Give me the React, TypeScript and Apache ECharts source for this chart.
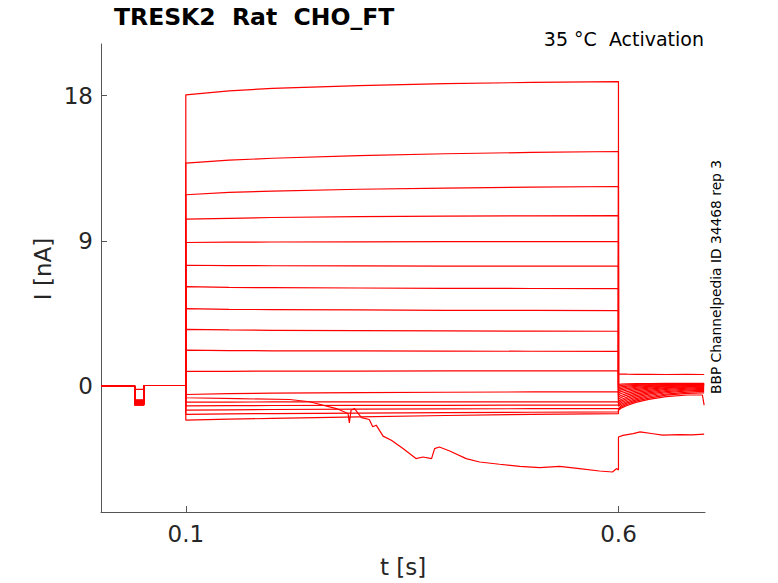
import { useEffect, useRef } from 'react'
import * as echarts from 'echarts'

// time points (s) shared by the regular sweeps
const PRE_T = [0.002, 0.041, 0.041, 0.0515, 0.0515, 0.1]
const STEP_T = [0.1, 0.15, 0.2, 0.3, 0.4, 0.5, 0.6]
const TAIL_T = [0.6, 0.603, 0.61, 0.62, 0.635, 0.655, 0.68, 0.697, 0.699]

// small prepulse dip before the step (nA)
const DIP = [-0.2, -0.85, -0.88, -0.9, -0.93, -0.95, -0.98, -1.0, -1.02, -1.05, -1.07, -1.1, -1.12, -1.14, -1.16, -1.17, -1.18]

// current during the voltage step (nA)
const STEP_I = [
  [18.05, 18.3, 18.45, 18.62, 18.74, 18.82, 18.87],
  [13.82, 14.0, 14.12, 14.28, 14.4, 14.48, 14.54],
  [11.86, 12.0, 12.08, 12.2, 12.27, 12.33, 12.37],
  [10.35, 10.4, 10.45, 10.5, 10.53, 10.55, 10.57],
  [8.9, 8.92, 8.93, 8.94, 8.95, 8.96, 8.96],
  [7.49, 7.47, 7.46, 7.45, 7.44, 7.43, 7.43],
  [6.16, 6.12, 6.1, 6.08, 6.06, 6.05, 6.04],
  [4.8, 4.76, 4.74, 4.72, 4.7, 4.69, 4.68],
  [3.52, 3.48, 3.46, 3.44, 3.42, 3.41, 3.4],
  [2.23, 2.2, 2.19, 2.18, 2.17, 2.16, 2.15],
  [0.91, 0.92, 0.93, 0.93, 0.94, 0.95, 0.95],
  [-0.52, -0.47, -0.44, -0.4, -0.38, -0.36, -0.35],
  [-0.99, -0.99, -0.98, -0.98, -0.97, -0.97, -0.97],
  [-1.22, -1.21, -1.2, -1.19, -1.19, -1.18, -1.18],
  [-1.49, -1.47, -1.45, -1.43, -1.41, -1.4, -1.39],
  [-1.75, -1.72, -1.7, -1.67, -1.64, -1.62, -1.6],
  [-2.11, -2.05, -2.0, -1.9, -1.82, -1.75, -1.7],
]

// tail current after the step (nA)
const TAIL_I = [
  [0.73, 0.75, 0.74, 0.73, 0.73, 0.72, 0.73, 0.72, 0.72],
  [0.1, 0.12, 0.14, 0.15, 0.16, 0.17, 0.17, 0.17, 0.17],
  [0.0, 0.04, 0.08, 0.1, 0.12, 0.14, 0.15, 0.15, 0.15],
  [-0.1, -0.05, 0.0, 0.05, 0.08, 0.1, 0.12, 0.12, 0.12],
  [-0.2, -0.14, -0.07, -0.01, 0.04, 0.07, 0.09, 0.1, 0.1],
  [-0.3, -0.23, -0.15, -0.07, -0.01, 0.04, 0.07, 0.08, 0.08],
  [-0.42, -0.34, -0.24, -0.14, -0.06, 0.0, 0.04, 0.06, 0.06],
  [-0.55, -0.46, -0.34, -0.22, -0.12, -0.04, 0.01, 0.03, 0.03],
  [-0.68, -0.58, -0.45, -0.31, -0.19, -0.09, -0.03, 0.0, 0.0],
  [-0.82, -0.7, -0.56, -0.4, -0.26, -0.14, -0.07, -0.04, -0.04],
  [-0.95, -0.83, -0.67, -0.5, -0.34, -0.2, -0.12, -0.08, -0.08],
  [-1.05, -0.93, -0.77, -0.59, -0.42, -0.27, -0.18, -0.14, -0.14],
  [-1.15, -1.03, -0.86, -0.68, -0.5, -0.34, -0.24, -0.2, -0.2],
  [-1.25, -1.12, -0.95, -0.77, -0.58, -0.41, -0.3, -0.26, -0.26],
  [-1.35, -1.22, -1.04, -0.85, -0.66, -0.49, -0.37, -0.33, -0.33],
  [-1.42, -1.3, -1.12, -0.93, -0.74, -0.56, -0.45, -0.42, -0.42],
  [-1.49, -1.37, -1.2, -1.01, -0.82, -0.65, -0.55, -0.55, -1.18],
]

// the one unstable sweep that drifts downward
const NOISY_T = [0.1, 0.16, 0.22, 0.243, 0.274, 0.2875, 0.289, 0.291, 0.295, 0.303, 0.312, 0.316, 0.32, 0.328, 0.3375, 0.351, 0.366, 0.374, 0.384, 0.3875, 0.393, 0.405, 0.424, 0.4395, 0.4626, 0.486, 0.509, 0.532, 0.555, 0.578, 0.593, 0.598, 0.6]
const NOISY_I = [-0.72, -0.78, -0.83, -0.97, -1.39, -1.7, -2.28, -1.49, -1.39, -1.95, -2.07, -2.52, -2.42, -3.1, -3.35, -3.87, -4.49, -4.39, -4.49, -3.87, -3.77, -4.02, -4.49, -4.7, -4.84, -4.97, -5.05, -4.97, -5.11, -5.26, -5.32, -5.11, -5.2]
const NOISY_TAIL_T = [0.6, 0.605, 0.617, 0.625, 0.64, 0.651, 0.671, 0.685, 0.699]
const NOISY_TAIL_I = [-3.15, -3.05, -2.94, -2.84, -2.95, -3.04, -3.0, -3.02, -2.98]
const NOISY_DIP = -1.0

const X_TICKS = [0.1, 0.6]
const Y_TICKS = [0, 9, 18]

function preStep(dip: number) {
  const vals = [0, 0, dip, dip, 0.04, 0.04]
  return PRE_T.map((t, i) => [t, vals[i]])
}

function sweep(i: number) {
  return [
    ...preStep(DIP[i]),
    ...STEP_T.map((t, k) => [t, STEP_I[i][k]]),
    ...TAIL_T.map((t, k) => [t, TAIL_I[i][k]]),
  ]
}

function noisySweep() {
  return [
    ...preStep(NOISY_DIP),
    ...NOISY_T.map((t, k) => [t, NOISY_I[k]]),
    ...NOISY_TAIL_T.map((t, k) => [t, NOISY_TAIL_I[k]]),
  ]
}

const FONT = 'DejaVu Sans'

export default function App() {
  const chartRef = useRef<HTMLDivElement>(null)

  useEffect(() => {
    if (!chartRef.current) return
    const chart = echarts.init(chartRef.current, undefined, { renderer: 'svg' })

    const traces = [...STEP_I.map((_, i) => sweep(i)), noisySweep()]
    const lines = traces.map((data) => ({
      type: 'line',
      data,
      showSymbol: false,
      silent: true,
      lineStyle: { color: '#ff0000', width: 1.2 },
    }))

    chart.setOption({
      animation: false,
      grid: { left: 101, right: 73, top: 44, bottom: 71 },
      xAxis: {
        type: 'value',
        min: 0.002,
        max: 0.7,
        axisLine: { show: true, onZero: false, lineStyle: { color: '#555', width: 1 } },
        axisTick: { show: true, inside: true, length: 6, customValues: X_TICKS, lineStyle: { color: '#555' } },
        axisLabel: { customValues: X_TICKS, color: '#262626', fontSize: 23, fontFamily: FONT, margin: 10 },
        splitLine: { show: false },
      },
      yAxis: {
        type: 'value',
        min: -7.8,
        max: 21.2,
        axisLine: { show: true, onZero: false, lineStyle: { color: '#555', width: 1 } },
        axisTick: { show: true, inside: true, length: 6, customValues: Y_TICKS, lineStyle: { color: '#555' } },
        axisLabel: { customValues: Y_TICKS, color: '#262626', fontSize: 23, fontFamily: FONT, margin: 8 },
        splitLine: { show: false },
      },
      graphic: [
        {
          type: 'text',
          left: 114,
          top: 5,
          style: { text: 'TRESK2  Rat  CHO_FT', font: `bold 23.5px ${FONT}`, fill: '#000' },
        },
        {
          type: 'text',
          right: 74,
          top: 29,
          style: { text: '35 °C  Activation', font: `19px ${FONT}`, fill: '#000' },
        },
        {
          type: 'text',
          x: 43,
          y: 269,
          rotation: Math.PI / 2,
          style: { text: 'I [nA]', font: `23px ${FONT}`, fill: '#262626', align: 'center', verticalAlign: 'middle' },
        },
        {
          type: 'text',
          x: 403,
          y: 567,
          style: { text: 't [s]', font: `23px ${FONT}`, fill: '#262626', align: 'center', verticalAlign: 'middle' },
        },
        {
          type: 'text',
          x: 716,
          y: 277,
          rotation: Math.PI / 2,
          style: { text: 'BBP Channelpedia ID 34468 rep 3', font: `13.8px ${FONT}`, fill: '#000', align: 'center', verticalAlign: 'middle' },
        },
      ],
      series: lines,
    })

    return () => {
      chart.dispose()
    }
  }, [])

  return <div ref={chartRef} style={{ position: 'fixed', left: 0, top: 0, width: 778, height: 583, background: '#fff' }} />
}
